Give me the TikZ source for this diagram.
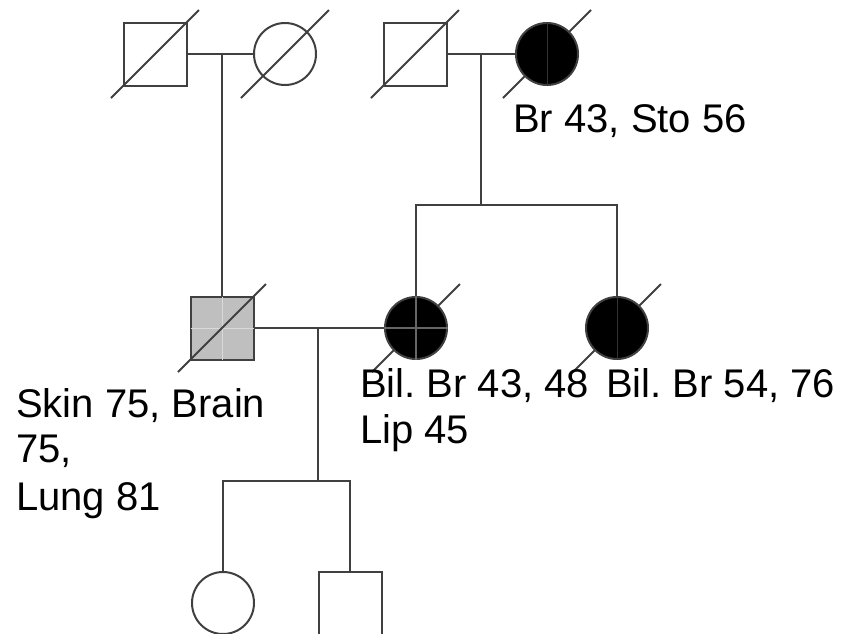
\documentclass[tikz,border=0pt]{standalone}
\usepackage{fontspec}
\setmainfont{Liberation Sans}
\frenchspacing
\begin{document}
\begin{tikzpicture}[x=1pt,y=-1pt,
  ln/.style={line width=2pt,draw=black!75},
  male/.style={ln,rectangle,minimum size=63pt,inner sep=0pt},
  female/.style={ln,circle,minimum size=62pt,inner sep=0pt},
  lbl/.style={anchor=base west,inner sep=0pt,font=\fontsize{40}{46}\selectfont},
  faint/.style={line width=1pt,draw=black!80},
  faintm/.style={line width=1.2pt,draw=black!60},
  faintw/.style={line width=1pt,draw=black!15}]
\useasboundingbox (0,0) rectangle (844,633);
\fill[white] (0,0) rectangle (844,633);
% slashes under black circles
\coordinate (pc2) at (547,54);
\coordinate (pm2) at (416,328);
\coordinate (pa2) at (617,328);
\foreach \c in {pc2,pm2,pa2}
  \draw[ln] ([shift={(-44,44)}]\c) -- ([shift={(44,-44)}]\c);
% generation I
\node[male] (gfp) at (155,54) {};
\node[female] (gmp) at (285,54) {};
\node[male] (gfm) at (415,54) {};
\node[female,fill=black] (gmm) at (pc2) {};
% generation II
\node[male,fill=black!25] (fa) at (222,328) {};
\node[female,fill=black] (mo) at (pm2) {};
\node[female,fill=black] (au) at (pa2) {};
% generation III
\node[female] (d1) at (223,603) {};
\node[male] (s1) at (350,603) {};
% faint cross lines inside filled shapes
\draw[faint] (gmm.north) -- (gmm.south);
\draw[faintm] (mo.north) -- (mo.south);
\draw[faintm] (mo.west) -- (mo.east);
\draw[faint] (au.north) -- (au.south);
\draw[faintw] ([yshift=-1pt]fa.north) -- ([yshift=1pt]fa.south);
\draw[faintw] ([xshift=1pt]fa.west) -- ([xshift=-1pt]fa.east);
% slashes over open / grey shapes
\foreach \n in {gfp,gmp,gfm,fa}
  \draw[ln] ([shift={(-44,44)}]\n.center) -- ([shift={(44,-44)}]\n.center);
% marriages and descent
\draw[ln] (gfp.east) -- (gmp.west);
\coordinate (m1) at (fa.center |- gfp.east);
\draw[ln] (m1) -- (fa.north);
\draw[ln] (gfm.east) -- (gmm.west);
\coordinate (m2) at (481,54);
\coordinate (s2) at (481,205);
\draw[ln] (m2) -- (s2);
\draw[ln] (mo.north) |- (s2) -| (au.north);
\draw[ln] (fa.east) -- (mo.west);
\coordinate (m3) at (318,328);
\coordinate (s3) at (318,481);
\draw[ln] (m3) -- (s3);
\draw[ln] (d1.north) |- (s3) -| (s1.north);
% labels
\node[lbl] (t1) at (513,132) {Br 43, Sto 56};
\node[lbl] (t2a) at (16,417) {Skin 75, Brain};
\node[lbl] (t2b) at (16,462) {75,};
\node[lbl] (t2c) at (16,510) {Lung 81};
\node[lbl] (t3a) at (360,397) {Bil. Br 43, 48};
\node[lbl] (t3b) at (360,443) {Lip 45};
\node[lbl] (t4) at (606,397) {Bil. Br 54, 76};
\end{tikzpicture}
\end{document}
